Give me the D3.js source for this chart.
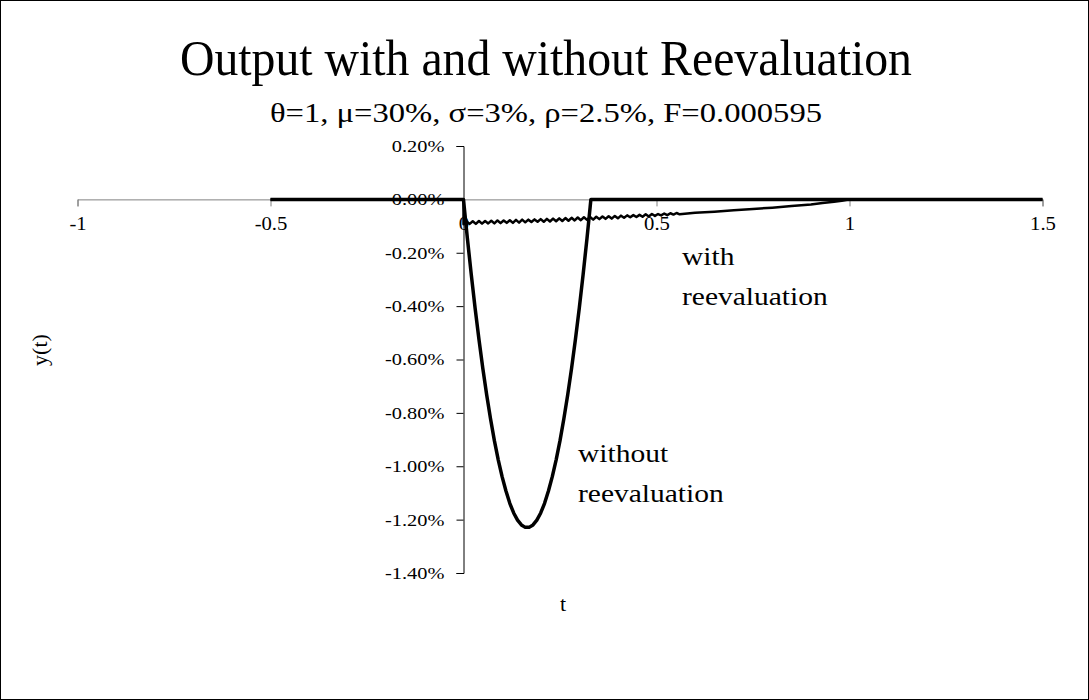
<!DOCTYPE html>
<html lang="en">
  <head>
    <meta charset="UTF-8" />
    <title>Output with and without Reevaluation</title>
    <script src="https://cdn.jsdelivr.net/npm/d3@7"></script>
    <style>
      body { margin: 0; background: #fff; }
      text { font-family: "Liberation Serif", "Times New Roman", serif; fill: #000; }
    </style>
  </head>
  <body>
    <div id="graph"></div>
    <script>
    // x ticks (t) and y ticks (percent)
    var xTicks = [-1, -0.5, 0, 0.5, 1, 1.5];
    var yTicks = [0.2, 0, -0.2, -0.4, -0.6, -0.8, -1.0, -1.2, -1.4];

    // without reevaluation, y in %
    var withoutT = [-0.5, 0, 0.002, 0.01, 0.02, 0.03, 0.04, 0.05, 0.06, 0.07, 0.08, 0.09, 0.10,
                    0.11, 0.12, 0.13, 0.14, 0.15, 0.16, 0.17, 0.18, 0.19, 0.20, 0.21, 0.22,
                    0.23, 0.24, 0.25, 0.26, 0.27, 0.28, 0.29, 0.30, 0.31, 0.32, 0.328, 0.33, 1.5];
    var withoutY = [0, 0, -0.030, -0.145, -0.280, -0.407, -0.524, -0.633, -0.732, -0.822, -0.904, -0.976, -1.039,
                    -1.093, -1.139, -1.175, -1.202, -1.220, -1.229, -1.229, -1.220, -1.202, -1.175, -1.139, -1.093,
                    -1.039, -0.976, -0.904, -0.822, -0.732, -0.633, -0.524, -0.407, -0.280, -0.145, -0.030, 0, 0];

    // with reevaluation, y in % (small ripple early on)
    var withT = [-0.5, 0,
                 0, 0.008, 0.016, 0.024, 0.032, 0.040, 0.048, 0.056, 0.064, 0.072, 0.080, 0.088, 0.096,
                 0.104, 0.112, 0.120, 0.128, 0.136, 0.144, 0.152, 0.160, 0.168, 0.176, 0.184, 0.192,
                 0.200, 0.208, 0.216, 0.224, 0.232, 0.240, 0.248, 0.256, 0.264, 0.272, 0.280, 0.288,
                 0.296, 0.304, 0.312, 0.320, 0.328, 0.336, 0.344, 0.352, 0.360, 0.368, 0.376, 0.384,
                 0.392, 0.400, 0.408, 0.416, 0.424, 0.432, 0.440, 0.448, 0.456, 0.464, 0.472, 0.480,
                 0.488, 0.496, 0.504, 0.512, 0.520, 0.528, 0.536, 0.544, 0.552, 0.560,
                 0.60, 0.65, 0.70, 0.75, 0.80, 0.85, 0.90, 0.93, 0.96, 0.98, 1.0, 1.5];
    var withY = [0, 0,
                 -0.093, -0.083, -0.092, -0.082, -0.092, -0.081, -0.091, -0.081, -0.090, -0.080, -0.090, -0.079, -0.089,
                 -0.079, -0.088, -0.078, -0.088, -0.077, -0.087, -0.076, -0.086, -0.076, -0.085, -0.075, -0.084,
                 -0.074, -0.084, -0.073, -0.083, -0.072, -0.082, -0.071, -0.081, -0.070, -0.080, -0.069, -0.079,
                 -0.068, -0.078, -0.067, -0.077, -0.066, -0.076, -0.065, -0.074, -0.064, -0.073, -0.063, -0.072,
                 -0.062, -0.071, -0.061, -0.069, -0.060, -0.067, -0.059, -0.066, -0.058, -0.065, -0.056, -0.064,
                 -0.055, -0.062, -0.055, -0.060, -0.053, -0.059, -0.052, -0.057, -0.051, -0.056,
                 -0.050, -0.046, -0.041, -0.036, -0.031, -0.025, -0.019, -0.014, -0.009, -0.005, 0, 0];

    var width = 1089,
        height = 700;

    var svg = d3.select("#graph").append("svg")
                .attr("width", width)
                .attr("height", height);

    // outer frame
    svg.append("rect")
        .attr("x", 0.5).attr("y", 0.5)
        .attr("width", width - 1).attr("height", height - 1)
        .attr("fill", "#fff").attr("stroke", "#000");

    var x = d3.scaleLinear().domain([-1, 1.5]).range([77.5, 1042.5]);
    var y = d3.scaleLinear().domain([0.2, -1.4]).range([146, 573]);

    // titles
    svg.append("text")
        .attr("x", 546).attr("y", 75)
        .attr("text-anchor", "middle")
        .attr("textLength", 732)
        .attr("lengthAdjust", "spacingAndGlyphs")
        .style("font-size", "50px")
        .text("Output with and without Reevaluation");

    svg.append("text")
        .attr("x", 546).attr("y", 122)
        .attr("text-anchor", "middle")
        .attr("textLength", 552)
        .attr("lengthAdjust", "spacingAndGlyphs")
        .style("font-size", "28px")
        .text("\u03b8=1, \u03bc=30%, \u03c3=3%, \u03c1=2.5%, F=0.000595");

    // x axis (horizontal line through y = 0)
    var xAxis = svg.append("g")
        .attr("transform", "translate(0," + y(0) + ")")
        .call(d3.axisBottom(x).tickValues(xTicks).tickSize(7).tickPadding(11)
              .tickFormat(function(d) { return String(d); }));
    xAxis.select(".domain").attr("stroke", "#808080");
    xAxis.selectAll(".tick line").attr("stroke", "#808080");
    xAxis.selectAll(".tick text")
        .style("font-size", "18px")
        .style("font-family", "'Liberation Serif', serif")
        .attr("transform", "scale(1.15,1)");

    // y axis (vertical line through t = 0)
    var yAxis = svg.append("g")
        .attr("transform", "translate(" + x(0) + ",0)")
        .call(d3.axisLeft(y).tickValues(yTicks).tickSize(7).tickPadding(12)
              .tickFormat(function(d) { return d.toFixed(2) + "%"; }));
    yAxis.select(".domain").attr("stroke", "#000");
    yAxis.selectAll(".tick line").attr("stroke", "#000");
    yAxis.selectAll(".tick text")
        .style("font-size", "17px")
        .style("font-family", "'Liberation Serif', serif")
        .attr("x", 0)
        .attr("transform", "translate(-19,0) scale(1.2,1)");

    // axis titles
    svg.append("text")
        .attr("x", 563).attr("y", 611)
        .attr("text-anchor", "middle")
        .style("font-size", "22px")
        .text("t");

    svg.append("text")
        .attr("transform", "translate(47,350) rotate(-90)")
        .attr("text-anchor", "middle")
        .style("font-size", "22px")
        .text("y(t)");

    // series
    var line = d3.line()
        .x(function(d) { return x(d[0]); })
        .y(function(d) { return y(d[1]); });

    var withData = withT.map(function(t, i) { return [t, withY[i]]; });
    var withoutData = withoutT.map(function(t, i) { return [t, withoutY[i]]; });

    svg.append("path")
        .datum(withData)
        .attr("d", line)
        .attr("fill", "none")
        .attr("stroke", "#000")
        .attr("stroke-width", 2.5)
        .attr("stroke-linejoin", "round");

    svg.append("path")
        .datum(withoutData)
        .attr("d", line)
        .attr("fill", "none")
        .attr("stroke", "#000")
        .attr("stroke-width", 3.5)
        .attr("stroke-linejoin", "round");

    // curve labels
    function label(lines, px, py) {
        var g = svg.append("g").attr("transform", "translate(" + px + "," + py + ") scale(1.18,1)");
        lines.forEach(function(s, i) {
            g.append("text")
                .attr("x", 0).attr("y", i * 40)
                .style("font-size", "25px")
                .text(s);
        });
    }
    label(["with", "reevaluation"], 682, 265);
    label(["without", "reevaluation"], 578, 462);
    </script>
  </body>
</html>
